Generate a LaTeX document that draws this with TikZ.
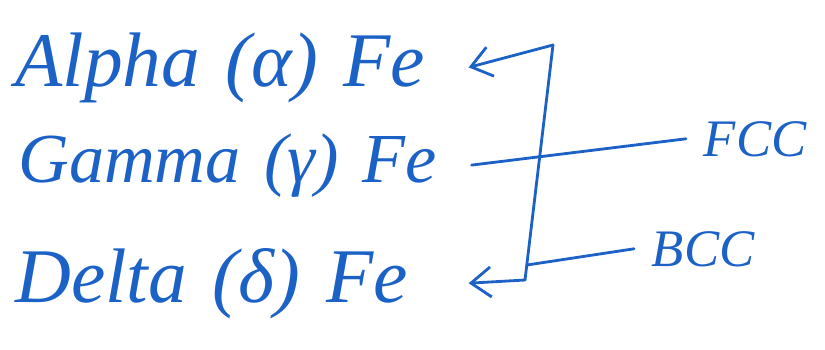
\documentclass[tikz,border=0pt]{standalone}
\usepackage{fontspec}
\setmainfont{Liberation Serif}
\usepackage{tikz}
\usetikzlibrary{arrows.meta}
\definecolor{ink}{RGB}{28,98,198}

\begin{document}
\begin{tikzpicture}[x=0.02cm,y=-0.02cm,
  pen/.style={ink,line width=1.6pt,line cap=round,line join=round},
  tip/.style={-{Straight Barb[length=4mm,width=6mm]}},
  phase/.style={ink,font=\fontsize{44}{48}\selectfont\itshape,text width=9.06cm,align=left,inner xsep=0pt,inner ysep=2pt,anchor=base west},
  lattice/.style={ink,font=\fontsize{30}{34}\selectfont\itshape,inner xsep=10pt,anchor=base west}]
  \useasboundingbox (0,0) rectangle (825,349);
  % the three forms of iron
  \node[phase] (alpha) at (15,86) {Alpha (α) Fe};
  \node[phase,font=\fontsize{40}{44}\selectfont\itshape] (gamma) at (18,182) {Gamma (γ) Fe};
  \node[phase] (delta) at (15,302) {Delta (δ) Fe};
  % crystal structures
  \node[lattice] (fcc) at (686,156) {FCC};
  \node[lattice] (bcc) at (634,266) {BCC};
  % bracket
  \coordinate (top) at (553,45);
  \coordinate (bot) at (525,280);
  \coordinate (join) at (527,265);
  \draw[pen,tip] (top) -- (alpha.east);
  \draw[pen] (top) -- (bot);
  \draw[pen,tip] (bot) -- (delta.east);
  \draw[pen] (gamma.east) -- (fcc.west);
  \draw[pen] (bcc.west) -- (join);
\end{tikzpicture}
\end{document}
